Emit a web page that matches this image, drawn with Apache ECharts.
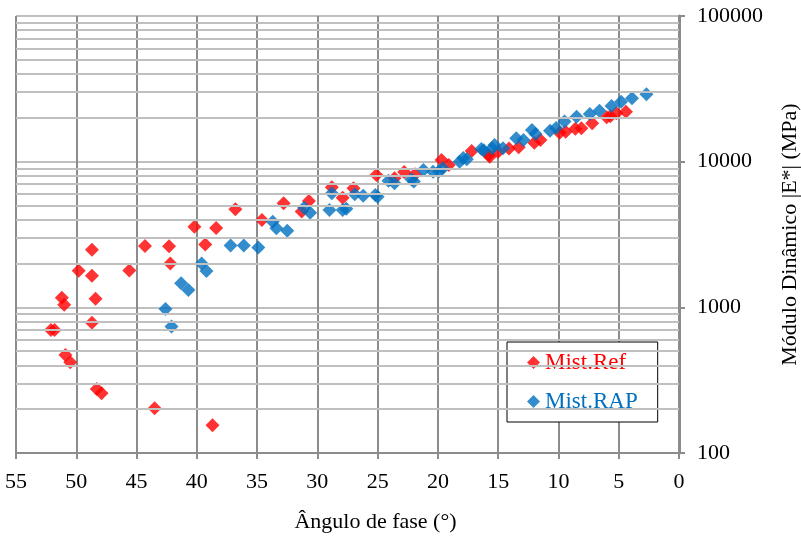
<!DOCTYPE html>
<html><head><meta charset="utf-8">
<script src="https://cdn.jsdelivr.net/npm/echarts@6/dist/echarts.min.js"></script>
<style>html,body{margin:0;padding:0;background:#fff}#c{width:801px;height:540px}</style>
</head><body><div id="c"></div>
<script>
var refAngle = [52.1,51.8,51.2,51.0,50.9,50.5,49.8,48.7,48.7,48.4,48.7,48.3,47.9,45.6,44.3,43.5,42.3,42.2,38.7,40.2,39.3,38.4,36.8,34.6,32.8,31.3,30.7,28.8,27.9,27.0,25.1,23.6,22.8,21.9,19.7,19.1,17.2,15.8,15.7,15.0,14.1,13.3,12.0,11.5,9.9,9.4,8.6,8.1,7.2,6.0,5.7,5.2,4.4];
var refModulus = [700,700,1165,1040,471,420,1780,2480,1645,1145,785,275,257,1790,2640,203,2630,2000,155,3580,2700,3500,4710,3980,5180,4540,5370,6670,5660,6560,8100,7690,8500,8190,10280,9490,11840,11120,10820,11720,12300,12550,13500,14100,15810,16070,16800,16950,18340,20170,20500,21480,22040];
var rapAngle = [42.6,42.1,41.3,40.7,39.6,39.2,37.2,36.1,34.9,33.7,33.4,32.5,31.1,30.6,29.0,28.8,27.9,27.6,26.9,26.2,25.2,25.0,24.1,23.6,22.2,22.0,21.2,20.4,19.6,19.9,18.2,17.6,17.9,16.4,15.5,16.2,15.3,14.6,13.5,12.9,12.2,11.9,10.7,10.2,9.5,8.5,7.4,6.6,5.6,4.8,3.9,2.7];
var rapModulus = [975,738,1462,1316,2000,1778,2654,2654,2570,3873,3490,3362,4830,4467,4660,6067,4660,4750,5970,5840,5900,5750,7410,7110,7570,7300,8770,8540,9010,8600,10000,10380,10600,12230,12360,12000,13030,12360,14490,14100,16510,15500,16300,17000,18840,20370,21250,22390,24100,25820,27230,29000];
var xTicks = [0,5,10,15,20,25,30,35,40,45,50,55];
var yDecades = [100,1000,10000,100000];

function zip(a,b){var r=[];for(var i=0;i<a.length;i++)r.push([a[i],b[i]]);return r;}
var minor=[];
for(var d=0; d<yDecades.length-1; d++){for(var m=2;m<=9;m++)minor.push({yAxis:yDecades[d]*m});}

var font='"Liberation Serif","Times New Roman",serif';
var chart=echarts.init(document.getElementById('c'),null,{renderer:'canvas'});
chart.setOption({
  animation:false,
  backgroundColor:'#fff',
  grid:{left:16,right:122,top:16,bottom:87,containLabel:false,outerBoundsMode:'none'},
  legend:{
    orient:'vertical',left:507,top:342,
    padding:[9,20,9,20],itemGap:16,
    backgroundColor:'#fff',borderColor:'#000',borderWidth:1,
    icon:'diamond',itemWidth:13,itemHeight:13,
    textStyle:{fontFamily:font,fontSize:23},
    data:[{name:'Mist.Ref',textStyle:{color:'#FF0000'}},{name:'Mist.RAP',textStyle:{color:'#0070C0'}}]
  },
  xAxis:{
    type:'value',inverse:true,min:xTicks[0],max:xTicks[xTicks.length-1],interval:5,z:2,
    name:'Ângulo de fase (°)',nameLocation:'middle',nameGap:58,
    nameTextStyle:{fontFamily:font,fontSize:22,color:'#000',padding:[0,0,0,56]},
    axisLine:{show:true,lineStyle:{color:'#8c8c8c',width:2}},
    axisTick:{show:true,length:6,lineStyle:{color:'#8c8c8c',width:2}},
    axisLabel:{fontFamily:font,fontSize:22,color:'#000',margin:18},
    splitLine:{show:true,lineStyle:{color:'#8c8c8c',width:2}}
  },
  yAxis:{
    type:'log',logBase:10,min:yDecades[0],max:yDecades[yDecades.length-1],position:'right',z:0,
    name:'Módulo Dinâmico |E*| (MPa)',nameLocation:'middle',nameGap:100,nameRotate:90,
    nameTextStyle:{fontFamily:font,fontSize:22,color:'#000'},
    axisLine:{show:true,lineStyle:{color:'#8c8c8c',width:3}},
    axisTick:{show:true,length:6,lineStyle:{color:'#8c8c8c',width:2}},
    axisLabel:{fontFamily:font,fontSize:22,color:'#000',margin:18,formatter:function(v){return String(Math.round(v));}},
    splitLine:{show:true,lineStyle:{color:'#c0c0c0',width:2}}
  },
  series:[
    {type:'scatter',name:'grid',data:[],z:1,silent:true,
     markLine:{silent:true,symbol:['none','none'],label:{show:false},animation:false,
       lineStyle:{color:'#c0c0c0',width:2,type:'solid'},emphasis:{disabled:true},data:minor}},
    {type:'scatter',name:'Mist.Ref',symbol:'diamond',symbolSize:14,z:3,
     itemStyle:{color:'#FF0000'},data:zip(refAngle,refModulus)},
    {type:'scatter',name:'Mist.RAP',symbol:'diamond',symbolSize:14,z:4,
     itemStyle:{color:'#0070C0'},data:zip(rapAngle,rapModulus)}
  ]
});
</script></body></html>
